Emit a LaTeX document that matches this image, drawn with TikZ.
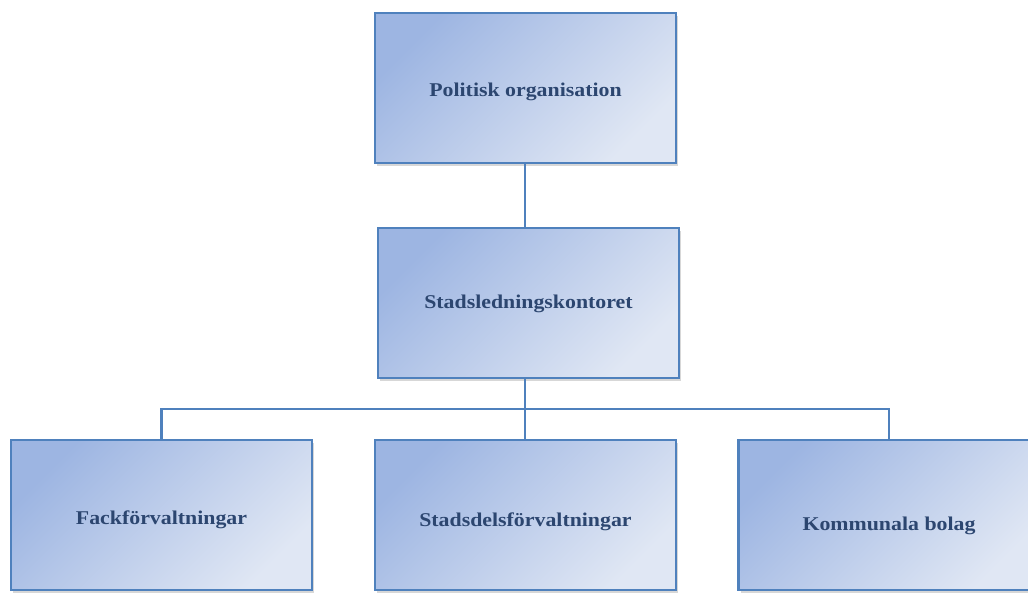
\documentclass[tikz,border=0pt]{standalone}
\usepackage{fontspec}
\setmainfont[FakeStretch=1.12]{Liberation Serif}
\usetikzlibrary{shadows}
\definecolor{bordc}{HTML}{4F81BD}
\definecolor{darkc}{HTML}{9DB5E2}
\definecolor{lightc}{HTML}{E0E7F4}
\definecolor{txtc}{HTML}{2C4670}
\newcommand{\lowertxt}[2]{\raisebox{-#1pt}[\height][\depth]{#2}}
\tikzset{
  orgbox/.style={draw=bordc, line width=2.6pt, rectangle, minimum width=301pt, minimum height=150pt,
    top color=darkc, bottom color=lightc, shading angle=45,
    drop shadow={shadow xshift=2pt, shadow yshift=-3pt, fill=black!35, opacity=0.45},
    font=\fontsize{19.5}{22}\selectfont\bfseries, text=txtc, inner sep=0pt},
  link/.style={draw=bordc, line width=2.2pt}
}
\begin{document}
\begin{tikzpicture}[x=1pt, y=-1pt]
\useasboundingbox (0,0) rectangle (1028,592);
\node[orgbox] (pol) at (525.5,88) {\lowertxt{4}{Politisk organisation}};
\node[orgbox] (sld) at (528.5,303) {\lowertxt{1}{Stadsledningskontoret}};
\node[orgbox] (fack) at (161.5,515) {\lowertxt{5}{Fackförvaltningar}};
\node[orgbox] (sdf) at (525.5,515) {\lowertxt{7}{Stadsdelsförvaltningar}};
\node[orgbox] (kom) at (889,515) {\lowertxt{11}{Kommunala bolag}};
\coordinate (hub) at (525,409);
\draw[link] (pol.south -| 525,0) -- (sld.north -| 525,0);
\draw[link] (sld.south -| hub) -- (hub);
\draw[link] (fack.north) -- (fack.north |- hub) -- (kom.north |- hub) -- (kom.north);
\draw[link] (hub) -- (sdf.north -| hub);
\end{tikzpicture}
\end{document}
